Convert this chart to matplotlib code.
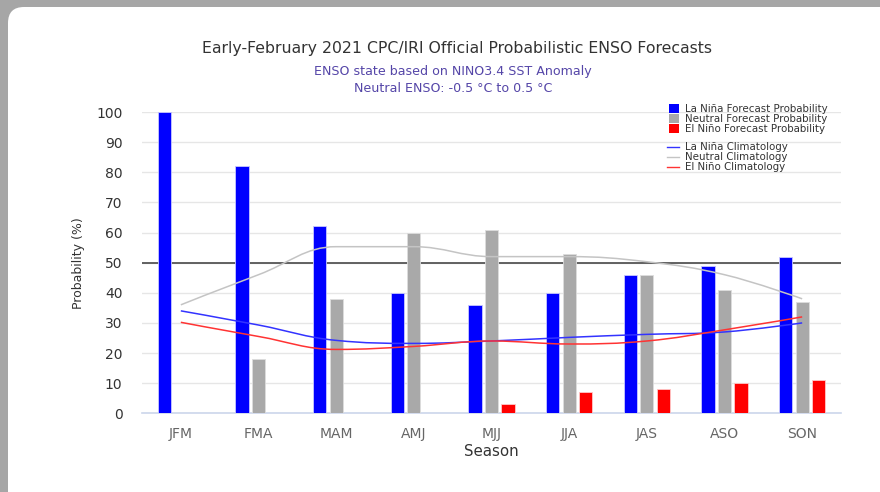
import numpy as np
import matplotlib
matplotlib.use("Agg")
import matplotlib.pyplot as plt
from matplotlib.path import Path
from matplotlib.patches import PathPatch, Patch, FancyBboxPatch
from matplotlib.lines import Line2D
from matplotlib.transforms import IdentityTransform

seasons = ["JFM", "FMA", "MAM", "AMJ", "MJJ", "JJA", "JAS", "ASO", "SON"]

# forecast probabilities (%)
lanina_fc = [100, 82, 62, 40, 36, 40, 46, 49, 52]
neutral_fc = [0, 18, 38, 60, 61, 53, 46, 41, 37]
elnino_fc = [0, 0, 0, 0, 3, 7, 8, 10, 11]

# climatology (%)
lanina_clim = [34, 29.3, 24.2, 23.2, 24, 25.2, 26.2, 27, 30]
neutral_clim = [36, 46, 55.3, 55.3, 52, 52, 50.3, 46, 38]
elnino_clim = [30.2, 25.5, 21.2, 22.2, 24, 23, 24, 27.7, 32]

BLUE = "#0000ff"
GRAY = "#a9a9a9"
RED = "#ff0000"


def spline_path(xs, ys, smoothing=1.5):
    # highcharts-style spline, bezier control points
    n = len(xs)
    left = [(xs[i], ys[i]) for i in range(n)]
    right = [(xs[i], ys[i]) for i in range(n)]
    denom = smoothing + 1
    for i in range(1, n - 1):
        px, py = xs[i], ys[i]
        lx, ly = xs[i - 1], ys[i - 1]
        nx, ny = xs[i + 1], ys[i + 1]
        lcx = (smoothing * px + lx) / denom
        lcy = (smoothing * py + ly) / denom
        rcx = (smoothing * px + nx) / denom
        rcy = (smoothing * py + ny) / denom
        corr = ((rcy - lcy) * (rcx - px)) / (rcx - lcx) + py - rcy
        lcy += corr
        rcy += corr
        if lcy > ly and lcy > py:
            lcy = max(ly, py)
            rcy = 2 * py - lcy
        elif lcy < ly and lcy < py:
            lcy = min(ly, py)
            rcy = 2 * py - lcy
        if rcy > ny and rcy > py:
            rcy = max(ny, py)
            lcy = 2 * py - rcy
        elif rcy < ny and rcy < py:
            rcy = min(ny, py)
            lcy = 2 * py - rcy
        left[i] = (lcx, lcy)
        right[i] = (rcx, rcy)
    verts = [(xs[0], ys[0])]
    codes = [Path.MOVETO]
    for i in range(1, n):
        verts += [right[i - 1], left[i], (xs[i], ys[i])]
        codes += [Path.CURVE4] * 3
    return Path(verts, codes)


fig = plt.figure(figsize=(8.8, 4.92), dpi=100, facecolor="#a6a6a6")
bg = FancyBboxPatch((8, -20), 900, 505, boxstyle="round,pad=0,rounding_size=16",
                    transform=IdentityTransform(), facecolor="white",
                    edgecolor="none", zorder=-10)
fig.add_artist(bg)

ax = fig.add_axes([142 / 880, 1 - 413.3 / 492, 699 / 880, 301.3 / 492])
ax.set_facecolor("white")

x = np.arange(len(seasons))
w = 0.17
off = 0.212
ax.bar(x - off, lanina_fc, w, color=BLUE, edgecolor="#c8c8ff", linewidth=0.6, zorder=3)
ax.bar(x, neutral_fc, w, color=GRAY, edgecolor="#dddddd", linewidth=0.6, zorder=3)
ax.bar(x + off, elnino_fc, w, color=RED, edgecolor="#ffc8c8", linewidth=0.6, zorder=3)

for vals, c in [(neutral_clim, "#c4c4c4"), (lanina_clim, "#3333ff"), (elnino_clim, "#ff3333")]:
    ax.add_patch(PathPatch(spline_path(x, vals), facecolor="none", edgecolor=c,
                           linewidth=1.1, zorder=4))

ax.axhline(50, color="#555555", linewidth=1.3, zorder=2)

ax.set_xlim(-0.5, len(seasons) - 0.5)
ax.set_ylim(0, 100)
ax.set_yticks(range(0, 101, 10))
ax.set_xticks(x)
ax.set_xticklabels(seasons)
ax.grid(axis="y", color="#e6e6e6", linewidth=1, zorder=0)
ax.set_axisbelow(True)
for s in ["top", "right", "left"]:
    ax.spines[s].set_visible(False)
ax.spines["bottom"].set_color("#ccd6eb")
ax.spines["bottom"].set_linewidth(1.2)
ax.tick_params(axis="y", length=0, pad=14, labelsize=10, labelcolor="#333333")
ax.tick_params(axis="x", length=0, pad=10, labelsize=10, labelcolor="#666666")

ax.set_xlabel("Season", fontsize=10.8, color="#333333", labelpad=2)
ax.set_ylabel("Probability (%)", fontsize=9, color="#333333", labelpad=8)

fig.text(0.519, 1 - 48 / 492, "Early-February 2021 CPC/IRI Official Probabilistic ENSO Forecasts",
         ha="center", va="center", fontsize=11.3, color="#333333")
fig.text(0.515, 1 - 72 / 492, "ENSO state based on NINO3.4 SST Anomaly",
         ha="center", va="center", fontsize=9.1, color="#5546a8")
fig.text(0.515, 1 - 89 / 492, "Neutral ENSO: -0.5 °C to 0.5 °C",
         ha="center", va="center", fontsize=9.1, color="#5546a8")

h1 = [Patch(facecolor=BLUE, edgecolor="none"),
      Patch(facecolor=GRAY, edgecolor="none"),
      Patch(facecolor=RED, edgecolor="none")]
l1 = ["La Niña Forecast Probability", "Neutral Forecast Probability", "El Niño Forecast Probability"]
leg1 = ax.legend(h1, l1, loc="upper left", bbox_to_anchor=(664 / 880, 1 - 99 / 492),
                 bbox_transform=fig.transFigure, frameon=False, fontsize=7.4,
                 handlelength=0.95, handleheight=0.95, labelspacing=0.0,
                 handletextpad=0.55, borderpad=0, labelcolor="#333333")
ax.add_artist(leg1)

h2 = [Line2D([], [], color="#3333ff", linewidth=1),
      Line2D([], [], color="#c4c4c4", linewidth=1),
      Line2D([], [], color="#ff3333", linewidth=1)]
l2 = ["La Niña Climatology", "Neutral Climatology", "El Niño Climatology"]
ax.legend(h2, l2, loc="upper left", bbox_to_anchor=(662 / 880, 1 - 137 / 492),
          bbox_transform=fig.transFigure, frameon=False, fontsize=7.4,
          handlelength=1.2, labelspacing=0.0, handletextpad=0.55, borderpad=0,
          labelcolor="#333333")

fig.savefig("out.png", dpi=100, facecolor=fig.get_facecolor())
